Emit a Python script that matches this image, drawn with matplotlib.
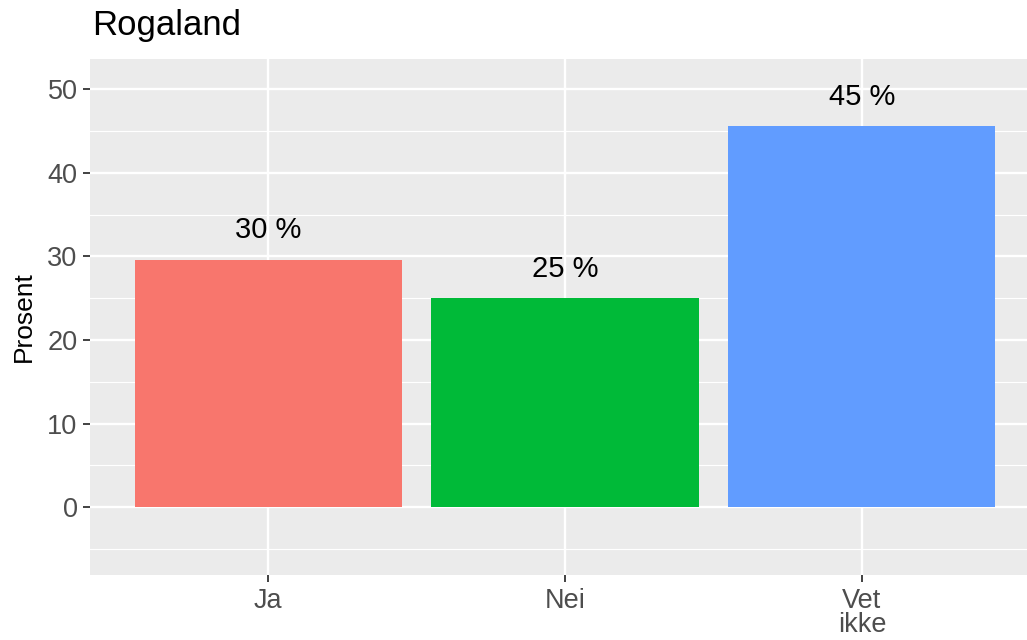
import matplotlib
matplotlib.use("Agg")
import matplotlib.pyplot as plt
from matplotlib.ticker import MultipleLocator

categories = ["Ja", "Nei", "Vet\nikke"]
values = [29.6, 25.0, 45.6]
labels = ["30 %", "25 %", "45 %"]
colors = ["#F8766D", "#00BA38", "#619CFF"]
title = "Rogaland"
ylabel = "Prosent"

plt.rcParams["font.family"] = ["Liberation Sans", "DejaVu Sans"]

W, H = 1027, 640
fig = plt.figure(figsize=(W / 100, H / 100), dpi=100)
left, right, top, bottom = 90, 1040, 59, 575
ax = fig.add_axes([left / W, 1 - bottom / H, (right - left) / W, (bottom - top) / H])
ax.set_facecolor("#EBEBEB")
x = list(range(1, len(categories) + 1))
ax.bar(x, values, width=0.9, color=colors, zorder=3)
for xi, v, lab in zip(x, values, labels):
    ax.text(xi, v + 3.5, lab, ha="center", va="center", fontsize=21, color="black", zorder=4)

ax.set_xlim(0.4, 3.6)
ax.set_ylim(-8.1, 53.6)
ax.set_xticks(x)
ax.set_xticklabels(categories, fontsize=19.5, color="#4D4D4D", linespacing=0.95)
ax.yaxis.set_major_locator(MultipleLocator(10))
ax.yaxis.set_minor_locator(MultipleLocator(5))
ax.set_yticks([0, 10, 20, 30, 40, 50])
ax.tick_params(axis="y", labelsize=19.5, labelcolor="#4D4D4D", length=5, width=1.3, color="#333333", pad=4)
ax.tick_params(axis="x", length=5, width=1.3, color="#333333", pad=4)
ax.tick_params(axis="y", which="minor", length=0)
ax.grid(True, which="major", color="white", linewidth=1.7, zorder=0)
ax.grid(True, which="minor", axis="y", color="white", linewidth=0.85, zorder=0)
ax.set_axisbelow(True)
for s in ax.spines.values():
    s.set_visible(False)
ax.set_ylabel(ylabel, fontsize=19, color="black", labelpad=8)
fig.text(left / W + 0.002, 1 - 26 / H, title, fontsize=25, color="black", ha="left", va="center")

fig.savefig("out.png", dpi=100)
